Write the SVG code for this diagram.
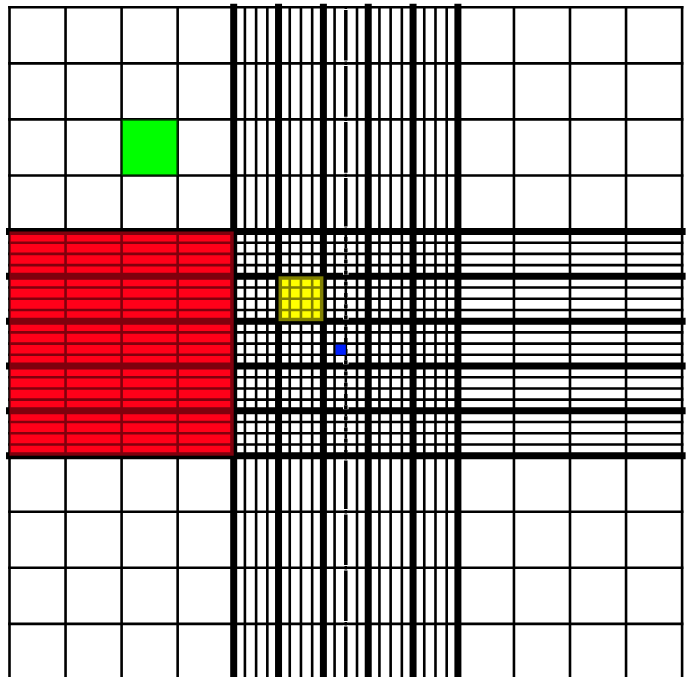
<svg xmlns="http://www.w3.org/2000/svg" width="688" height="677" viewBox="0 0 688 677">
<style>
.thin{stroke:#000;stroke-width:2.6;fill:none;stroke-linecap:square}
.thick{stroke:#000;stroke-width:7;fill:none;stroke-linecap:square}
.cw{stroke:#fff;stroke-width:5.5;fill:none}
.cb{stroke:#000;stroke-width:3.5;fill:none}
</style>
<rect width="688" height="677" fill="#fff"/>
<g id="fills">
<rect id="red" x="9.5" y="231.5" width="224.2" height="224.2" fill="#ff0019"/>
<rect id="yellow" x="278.54" y="276.34" width="44.84" height="44.84" fill="#ffff00"/>
<rect id="green" x="121.6" y="119.4" width="56.05" height="56.05" fill="#00ff00"/>
</g>
<g id="grid-vertical">
<path class="thin" d="M9.5 7.3V677M65.55 7.3V677M121.6 7.3V677M177.65 7.3V677M513.95 7.3V677M570 7.3V677M626.05 7.3V677M682.1 7.3V677"/>
<path class="thin" d="M244.91 7.3V677M256.12 7.3V677M267.33 7.3V677M289.75 7.3V677M300.96 7.3V677M312.17 7.3V677M334.59 7.3V677M345.8 7.3V677M357.01 7.3V677M379.43 7.3V677M390.64 7.3V677M401.85 7.3V677M424.27 7.3V677M435.48 7.3V677M446.69 7.3V677"/>
<path class="thick" d="M233.7 7.3V677M278.54 7.3V677M323.38 7.3V677M368.22 7.3V677M413.06 7.3V677M457.9 7.3V677"/>
</g>
<g id="grid-horizontal">
<path class="thin" d="M9.5 7.3H682.1M9.5 63.35H682.1M9.5 119.4H682.1M9.5 175.45H682.1M9.5 511.75H682.1M9.5 567.8H682.1M9.5 623.85H682.1"/>
<path class="thin" d="M9.5 242.71H682.1M9.5 253.92H682.1M9.5 265.13H682.1M9.5 287.55H682.1M9.5 298.76H682.1M9.5 309.97H682.1M9.5 332.39H682.1M9.5 343.6H682.1M9.5 354.81H682.1M9.5 377.23H682.1M9.5 388.44H682.1M9.5 399.65H682.1M9.5 422.07H682.1M9.5 433.28H682.1M9.5 444.49H682.1"/>
<path class="thick" d="M9.5 231.5H682.1M9.5 276.34H682.1M9.5 321.18H682.1M9.5 366.02H682.1M9.5 410.86H682.1M9.5 455.7H682.1"/>
</g>
<g id="center-line">
<path class="cw" d="M345.8 9V61.6M345.8 65V117.7M345.8 121V173.7M345.8 177V227.5M345.8 459.5V510M345.8 513.5V566M345.8 569.5V622M345.8 625.5V677"/>
<path class="cb" d="M345.8 10V60.6M345.8 66V116.7M345.8 122V172.7M345.8 178V226.5M345.8 460.5V509M345.8 514.5V565M345.8 570.5V621M345.8 626.5V677"/>
<path d="M345.8 235V452" stroke="#fff" stroke-width="5.5" stroke-dasharray="4 7.21" stroke-dashoffset="-2"/>
<path d="M345.8 235V452" stroke="#000" stroke-width="3.5" stroke-dasharray="4 7.21" stroke-dashoffset="-2"/>
</g>
<g id="overlays">
<rect x="9.5" y="231.5" width="224.2" height="224.2" fill="#ff0019" opacity="0.5"/>
<rect x="278.54" y="276.34" width="44.84" height="44.84" fill="#ffff00" opacity="0.5"/>
<rect x="121.6" y="119.4" width="56.05" height="56.05" fill="#00ff00" opacity="0.3"/>
<rect id="blue" x="335.6" y="344.6" width="10.2" height="10.2" fill="#0020ff"/>
</g>
</svg>
